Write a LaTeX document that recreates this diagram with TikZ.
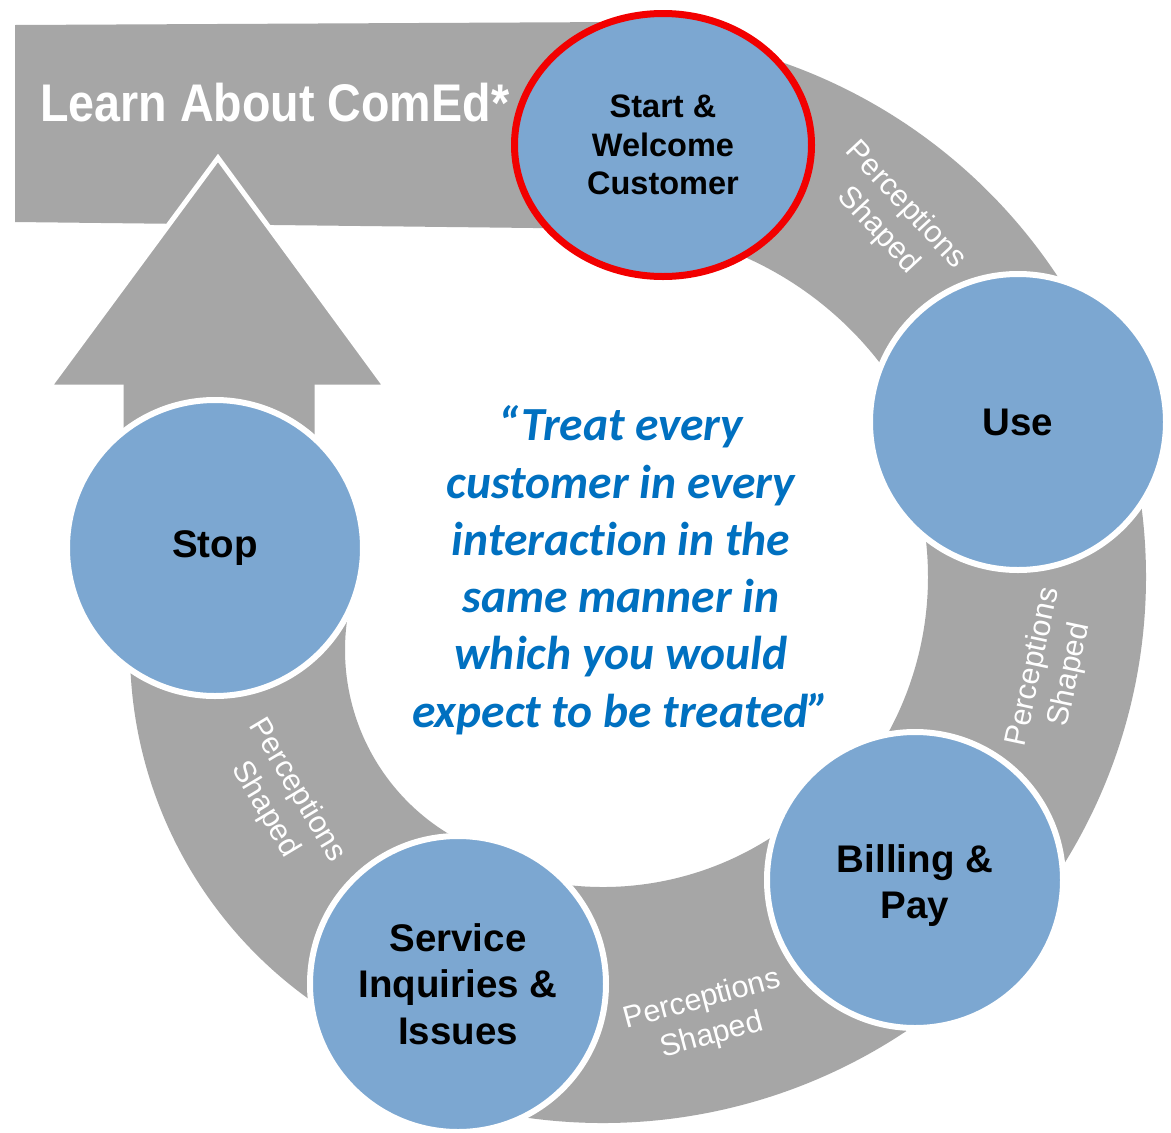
\documentclass[tikz,border=0pt]{standalone}
\usepackage{fontspec}
\usepackage{graphicx}
\setmainfont{Liberation Sans}
\newfontfamily\quotefont[Ligatures=NoCommon]{Carlito}
\usetikzlibrary{calc,shapes.geometric}

\definecolor{ringgrey}{RGB}{166,166,166}
\definecolor{stageblue}{RGB}{124,167,209}
\definecolor{quoteblue}{RGB}{0,112,192}
\definecolor{startred}{RGB}{242,0,0}

% one grey block of the cycle: centre, start angle, end angle, outer and inner radius
\newcommand\cycleblock[6]{%
  \fill[ringgrey] (#1,#2) ++(#3:#5) arc[start angle=#3, end angle=#4, radius=#5]
    -- ($(#1,#2)+(#4:#6)$) arc[start angle=#4, end angle=#3, radius=#6] -- cycle;}

\begin{document}
\begin{tikzpicture}[x=1pt,y=-1pt,
  stage/.style={circle, fill=stageblue, draw=white, line width=6pt,
    minimum size=296pt, inner sep=0pt, align=center, text=black,
    font=\fontsize{38.5}{46.5}\selectfont\bfseries},
  startstage/.style={ellipse, fill=stageblue, draw=startred, line width=7pt,
    minimum width=297pt, minimum height=263pt, inner sep=0pt, align=center,
    text=black, font=\fontsize{32.5}{38.5}\selectfont\bfseries},
  percep/.style={text=white, align=center, inner sep=0pt,
    font=\fontsize{30.5}{37}\selectfont},
  quoteline/.style={anchor=base, text=quoteblue, inner sep=0pt,
    font=\quotefont\fontsize{47.5}{57}\selectfont\bfseries\itshape},
  bannertext/.style={anchor=base west, text=white, inner sep=0pt,
    font=\fontsize{53}{58}\selectfont\bfseries}]

\useasboundingbox (0,0) rectangle (1171,1133);
\fill[white] (0,0) rectangle (1171,1133);

% banner across the top
\fill[ringgrey] (15,25) -- (620,22) -- (620,229) -- (15,222) -- cycle;

% grey blocks between the stages
\cycleblock{603}{577}{-76}{-18}{545}{350}
\cycleblock{603}{577}{-20}{44}{543}{325}
\cycleblock{603}{577}{40}{112}{546}{310}
\cycleblock{560}{650}{108}{200}{430}{215}

% arrow from Stop up into the banner
\filldraw[fill=ringgrey, draw=white, line width=5pt, line join=miter]
  (218,158) -- (386,387) -- (317,387) -- (317,455) -- (121,455)
  -- (121,387) -- (49,387) -- cycle;

\node[bannertext] (learn) at (40,121) {\scalebox{0.88}[1]{Learn About ComEd*}};

% stages
\node[startstage] (start) at (663,145) {Start \&\\Welcome\\Customer};
\node[stage] (use) at (1018,422) {Use};
\node[stage] (bill) at (915,880)
  {\raisebox{-6pt}[\height][\depth]{\begin{tabular}{@{}c@{}}Billing \&\\Pay\end{tabular}}};
\node[stage] (serv) at (458,984) {Service\\Inquiries \&\\Issues};
\node[stage] (stop) at (215,548) {Stop};

% labels on the grey blocks
\node[percep, rotate=-47] (pa) at (892,218) {Perceptions\\Shaped};
\node[percep, rotate=78] (pb) at (1052,671) {Perceptions\\Shaped};
\node[percep, rotate=15] (pc) at (707,1018) {Perceptions\\Shaped};
\node[percep, rotate=-59] (pd) at (281,800) {Perceptions\\Shaped};

% motto in the middle
\node[quoteline] (q1) at (621,440) {“Treat every};
\node[quoteline] (q2) at (621,498) {customer in every};
\node[quoteline] (q3) at (621,555) {interaction in the};
\node[quoteline] (q4) at (621,612) {same manner in};
\node[quoteline] (q5) at (621,669) {which you would};
\node[quoteline] (q6) at (621,727) {expect to be treated”};

\end{tikzpicture}
\end{document}
